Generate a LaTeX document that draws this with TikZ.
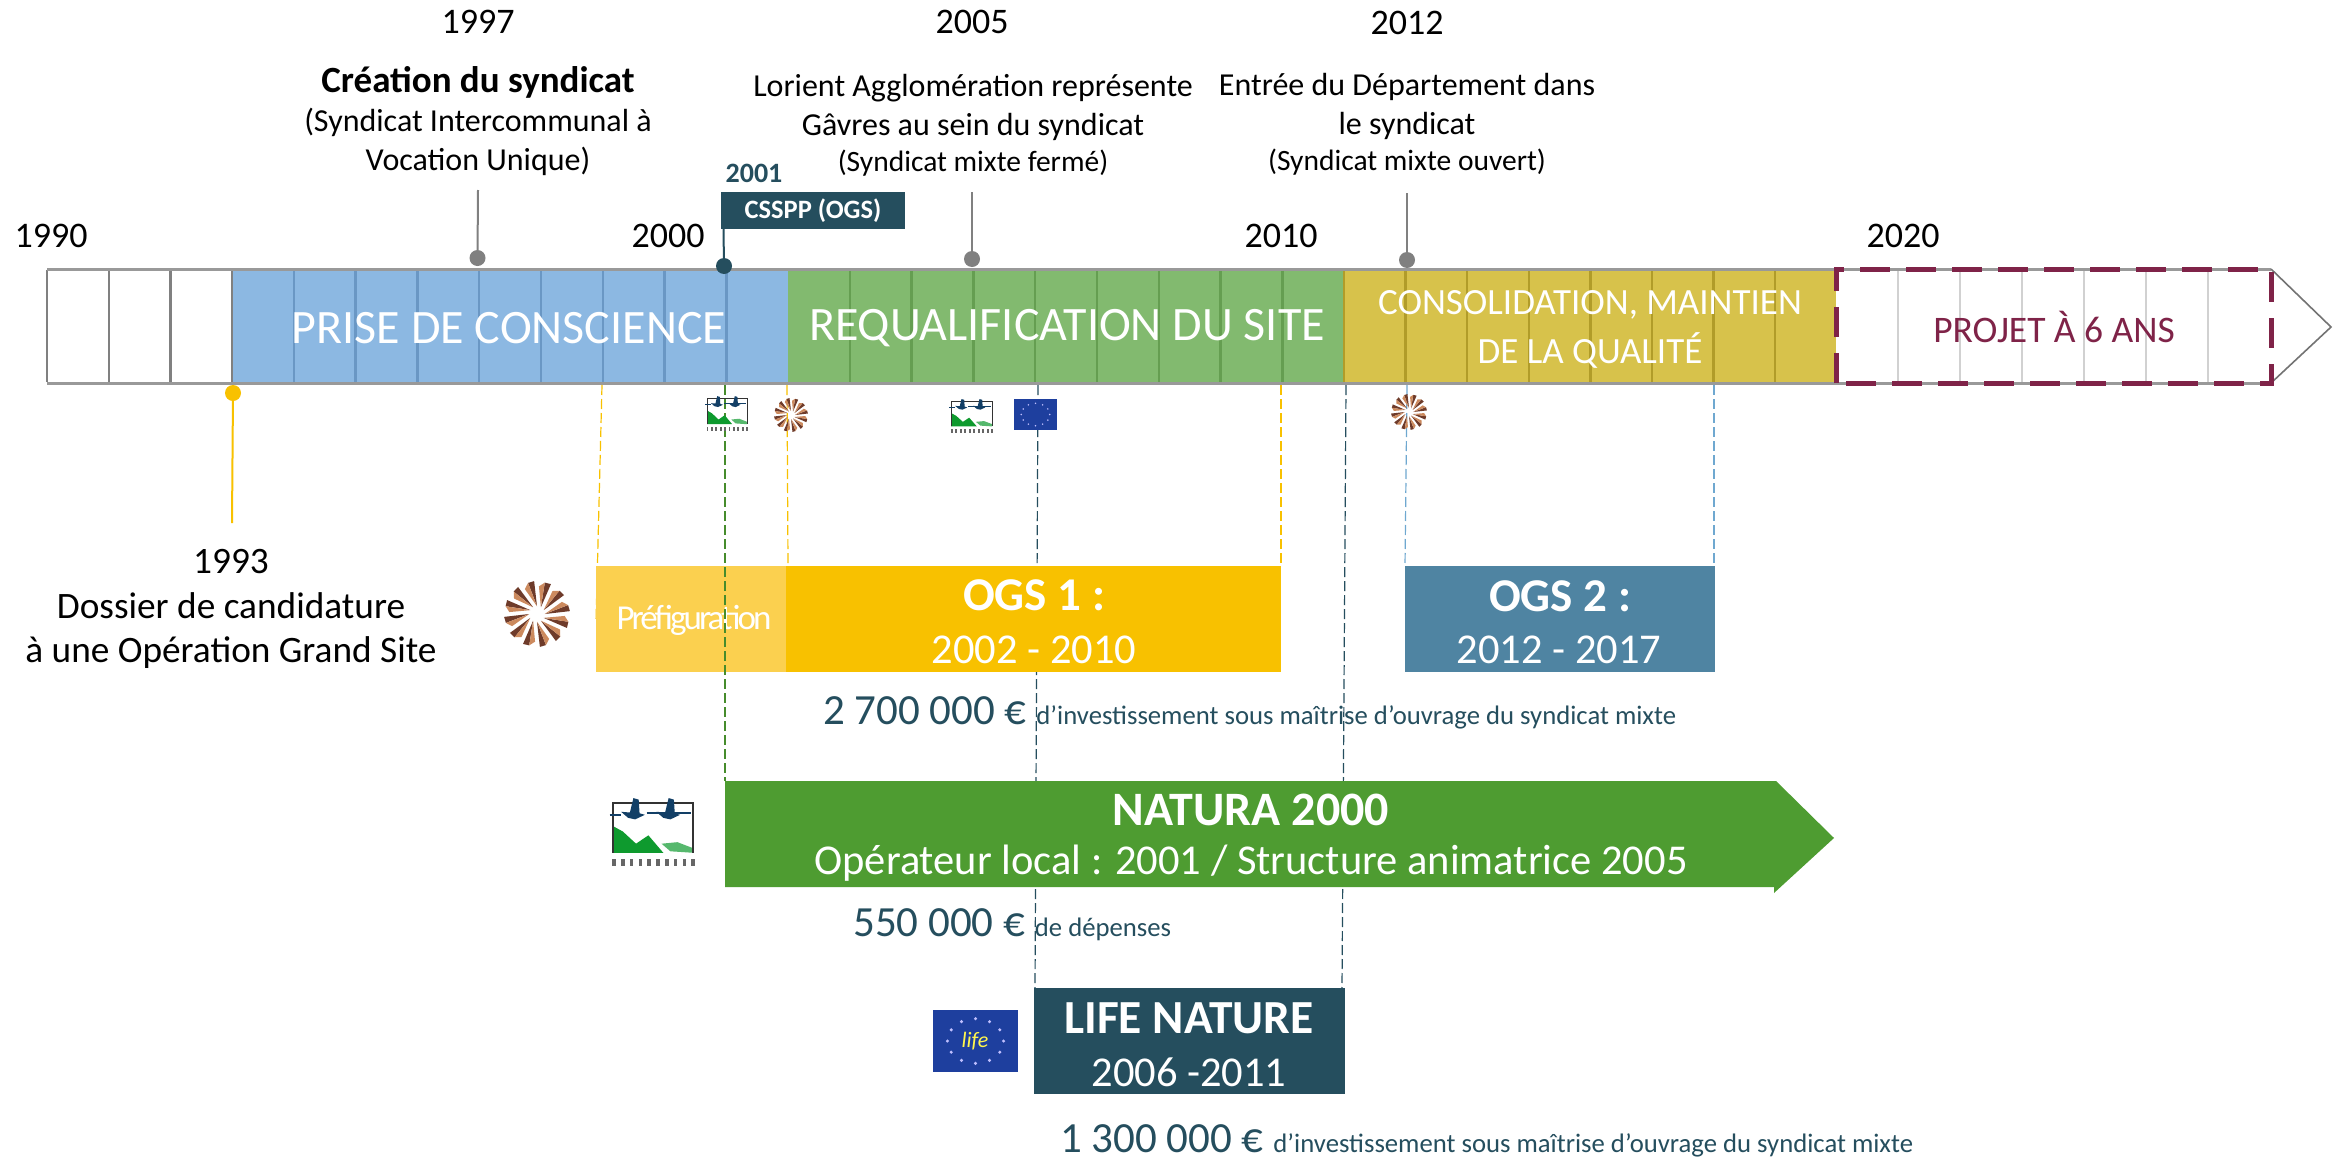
\documentclass[tikz,border=0pt]{standalone}
\usepackage{fontspec}
\setmainfont{Carlito}
\definecolor{blueF}{HTML}{8CB8E2}
\definecolor{blueL}{HTML}{6A97C4}
\definecolor{greenF}{HTML}{82BA6F}
\definecolor{greenL}{HTML}{659E51}
\definecolor{yelF}{HTML}{D7C24B}
\definecolor{yelL}{HTML}{B19C29}
\definecolor{wine}{HTML}{7F2348}
\definecolor{navy}{HTML}{254E5E}
\definecolor{ogsA}{HTML}{F8C100}
\definecolor{ogsP}{HTML}{FBD04F}
\definecolor{ogsB}{HTML}{4F84A2}
\definecolor{natG}{HTML}{4E9C31}
\definecolor{euB}{HTML}{1E3F9E}
\definecolor{dotG}{HTML}{808080}
\definecolor{dashB}{HTML}{6FA8D0}
\definecolor{rosD}{HTML}{6E3B2A}
\definecolor{rosL}{HTML}{CC8A5E}
\definecolor{birdB}{HTML}{123F66}
\definecolor{mtG}{HTML}{0E9A2E}
\newcommand{\fs}[1]{\fontsize{#1}{#1}\selectfont}
\newcommand{\fss}[2]{\fontsize{#1}{#2}\selectfont}
\newcommand{\rosette}[3]{%
 \begin{scope}[shift={(#1,#2)},x=#3pt,y=#3pt]
  \foreach \a in {0,30,...,330}{
   \fill[fill=rosD] (\a:0.24) -- (\a+5:1) -- (\a+16:0.98) -- cycle;
   \fill[fill=rosL] (\a+1:0.24) -- (\a+16:0.98) -- (\a+26:0.84) -- cycle;
  }
 \end{scope}}
\newcommand{\natlogo}[4]{%
 \begin{scope}[shift={(#1,#2)},x=#3pt,y=-#4pt]
  \fill[mtG] (0.07,0.80) -- (0.07,0.45) -- (0.18,0.52) -- (0.33,0.68) -- (0.47,0.57) -- (0.64,0.80) -- cycle;
  \fill[mtG!70!white] (0.62,0.68) -- (0.8,0.66) -- (0.98,0.74) -- (0.98,0.80) -- (0.72,0.78) -- cycle;
  \draw[black!80,line width=0.02*#3pt] (0.07,0.80) -- (0.07,0.14) -- (0.98,0.14) -- (0.98,0.80);
  \foreach \u in {0.16,0.56}{
   \fill[birdB] (\u,0.26) -- (\u+0.10,0.27) -- (\u+0.14,0.08) -- (\u+0.20,0.10) -- (\u+0.21,0.28) -- (\u+0.27,0.30) -- (\u+0.16,0.36) -- (\u+0.08,0.34) -- cycle;
  }
  \draw[birdB,line width=0.02*#3pt] (0.03,0.30) -- (0.16,0.30) (0.45,0.28) -- (0.95,0.28);
  \foreach \u in {0.08,0.18,...,0.98}
   \fill[black!60] (\u-0.02,0.88) rectangle (\u+0.02,0.98);
 \end{scope}}
\newcommand{\eulogo}[4]{%
 \begin{scope}[shift={(#1,#2)}]
  \fill[euB] (0,0) rectangle (#3,#4);
  \foreach \a in {0,30,...,330}
   \fill[blue!25!white] ({#3/2+0.33*#3*cos(\a)},{#4/2+0.36*#4*sin(\a)}) circle[radius=0.02*#3];
 \end{scope}}
\tikzset{
 x=1pt,y=-1pt,
 lbl/.style={inner sep=0pt,align=center,text=black},
 dotn/.style={circle,inner sep=0pt,minimum size=16pt,fill=#1},
 dline/.style={line width=1.2pt,dash pattern=on 10pt off 4pt,draw=#1},
 tick/.style={line width=2pt,draw=#1},
 cell/.style={line width=2.4pt,draw=#1},
 bandtxt/.style={inner sep=0pt,align=center,text=white},
 boxn/.style={inner sep=0pt,align=center,text=white,fill=#1}
}
\begin{document}
\begin{tikzpicture}
\useasboundingbox (0,0) rectangle (2341,1159);
\fill[white] (0,0) rectangle (2341,1159);
% ---- timeline bar
\fill[blueF] (232,269) rectangle (788,383);
\fill[greenF] (788,269) rectangle (1344,383);
\fill[yelF] (1344,269) rectangle (1836,383);
\foreach \n in {1,...,6}\draw[line width=2pt,draw=black!18] ({1836+\n*62},269) -- ({1836+\n*62},383);
\foreach \n in {1,...,8}\draw[cell=blueL] ({232+\n*61.8},270) -- ({232+\n*61.8},382);
\foreach \n in {1,...,8}\draw[cell=greenL] ({788+\n*61.8},270) -- ({788+\n*61.8},382);
\foreach \n in {0,...,7}\draw[cell=yelL] ({1344+\n*61.6},270) -- ({1344+\n*61.6},382);
\foreach \n in {0,1,2,3}\draw[cell=black!50] ({47+\n*61.7},270) -- ({47+\n*61.7},382);
\draw[line width=3pt,draw=black!40] (47,269) -- (2271,269) (47,383) -- (2271,383);
\draw[line width=1.6pt,draw=black!55,line join=miter] (2271,269) -- (2331,327) -- (2271,383);
\draw[line width=5pt,draw=wine,dash pattern=on 30pt off 16pt] (1836,383) -- (1836,269) -- (2271,269) -- (2271,383) -- cycle;
% ---- band labels
\node[bandtxt] (prise) at (509,328) {\fs{48}PRISE DE CONSCIENCE};
\node[bandtxt] (requal) at (1067,328) {\fs{48}REQUALIFICATION DU SITE};
\node[bandtxt] (conso1) at (1590,305) {\fs{37}CONSOLIDATION, MAINTIEN};
\node[bandtxt] (conso2) at (1590,350) {\fs{37}DE LA QUALITÉ};
\node[lbl,text=wine] (projet) at (2054,327) {\fs{37.5}PROJET À 6 ANS};
% ---- year labels
\foreach \nm/\px/\py/\yr in {y90/51/236/1990,y00/668/236/2000,y10/1281/236/2010,y20/1903/236/2020,y97/478/22/1997,y05/972/22/2005,y12/1407/23/2012}
 \node[lbl] (\nm) at (\px,\py) {\fs{36}\yr};
% ---- event labels
\node[lbl] (cre) at (478,82) {\fs{37}\bfseries Création du syndicat};
\node[lbl,font=\fss{32}{39}] (cre2) at (478,142) {(Syndicat Intercommunal à\\Vocation Unique)};
\node[lbl,font=\fss{32}{39}] (lor) at (973,107) {Lorient Agglomération représente\\Gâvres au sein du syndicat};
\node[lbl] (lor2) at (973,163) {\fs{29.5}(Syndicat mixte fermé)};
\node[lbl,font=\fss{32}{39}] (dep) at (1407,106) {Entrée du Département dans\\le syndicat};
\node[lbl] (dep2) at (1407,162) {\fs{29.5}(Syndicat mixte ouvert)};
\node[lbl,font=\fss{37.3}{44.5}] (dos) at (231,609) {1993\\Dossier de candidature\\à une Opération Grand Site};
% ---- markers
\coordinate (t97) at (478,190);
\coordinate (t05) at (972,192);
\coordinate (t12) at (1407,193);
\coordinate (t01) at (723.5,229);
\coordinate (t93) at (232,523);
\node[dotn=dotG] (d97) at (477.5,258) {};
\node[dotn=dotG] (d05) at (972,259) {};
\node[dotn=dotG] (d12) at (1407,260) {};
\node[dotn=navy] (d01) at (724,266) {};
\node[dotn=ogsA] (d93) at (233,393) {};
\draw[tick=dotG] (t97) -- (d97);
\draw[tick=dotG] (t05) -- (d05);
\draw[tick=dotG] (t12) -- (d12);
\draw[tick=navy] (t01) -- (d01);
\draw[tick=ogsA] (d93) -- (t93);
\node[boxn=navy,minimum width=184pt,minimum height=37pt] (csspp) at (813,210.5) {\fs{26.5}\bfseries CSSPP (OGS)};
\node[lbl,text=navy] (a01) at (754,173) {\fs{28}\bfseries 2001};
% ---- dashed guides
\coordinate (g1a) at (602,385); \coordinate (g1b) at (596,622);
\coordinate (g2a) at (787,385); \coordinate (g2b) at (788,566);
\coordinate (g3a) at (1281,385); \coordinate (g3b) at (1281,566);
\coordinate (g4a) at (725,385); \coordinate (g4b) at (725,781);
\coordinate (g5a) at (1038,385); \coordinate (g5b) at (1035,988);
\coordinate (g6a) at (1346,385); \coordinate (g6b) at (1342,988);
\coordinate (g7a) at (1407,385); \coordinate (g7b) at (1405,566);
\coordinate (g8a) at (1714,385); \coordinate (g8b) at (1714,566);
\draw[dline=ogsA] (g1a) -- (g1b);
\draw[dline=ogsA] (g2a) -- (g2b);
\draw[dline=ogsA] (g3a) -- (g3b);
\draw[dline=navy] (g5a) -- (g5b);
\draw[dline=navy] (g6a) -- (g6b);
\draw[dline=dashB] (g7a) -- (g7b);
\draw[dline=dashB] (g8a) -- (g8b);
% ---- programme boxes
\node[boxn=ogsP,minimum width=190pt,minimum height=106pt] (pref) at (691,619) {};
\node[lbl,text=white] (preft) at (694,620) {\fs{35}\addfontfeature{LetterSpace=-8.5}Préfiguration};
\node[boxn=ogsA,minimum width=495pt,minimum height=106pt] (ogsa) at (1033.5,619) {};
\node[lbl,text=white] (ogsat) at (1034,595) {\fs{47}\bfseries OGS 1 :};
\node[lbl,text=white] (ogsad) at (1034,650) {\fs{42.5}2002 - 2010};
\node[boxn=ogsB,minimum width=310pt,minimum height=106pt] (ogsb) at (1560,619) {};
\node[lbl,text=white] (ogsbt) at (1560,596) {\fs{47}\bfseries OGS 2 :};
\node[lbl,text=white] (ogsbd) at (1559,650) {\fs{42.5}2012 - 2017};
\draw[dline=natG!90!black] (g4a) -- (g4b);
\fill[natG] (725,781) -- (1776,781) -- (1834,838) -- (1774,893) -- (1774,887) -- (725,887) -- cycle;
\node[lbl,text=white] (natt) at (1251,810) {\fs{48}\bfseries NATURA 2000};
\node[lbl,text=white] (natd) at (1251,863) {\fs{42.5}Opérateur local : 2001 / Structure animatrice 2005};
\node[boxn=navy,minimum width=311pt,minimum height=106pt] (life) at (1189.5,1041) {};
\node[lbl,text=white] (lifet) at (1189,1018) {\fs{47.5}\bfseries LIFE NATURE};
\node[lbl,text=white] (lifed) at (1189,1072) {\fs{42.5}2006 -2011};
% ---- amounts
\node[lbl,text=navy,anchor=base west] (m1) at (823,724) {\fs{43}2 700 000 € \fs{26.7}d’investissement sous maîtrise d’ouvrage du syndicat mixte};
\node[lbl,text=navy,anchor=base west] (m2) at (853,936.5) {\fs{43}550 000 € \fs{26.7}de dépenses};
\node[lbl,text=navy,anchor=base west] (m3) at (1060,1152.5) {\fs{43}1 300 000 € \fs{26.7}d’investissement sous maîtrise d’ouvrage du syndicat mixte};
% ---- logos
\rosette{537}{614}{33}
\rosette{791}{415}{17}
\rosette{1409}{412}{18}
\natlogo{607}{792}{88}{76}
\natlogo{704}{393}{44}{39}
\natlogo{948}{396}{45}{38}
\eulogo{933}{1010}{85}{62}
\eulogo{1014}{399}{43}{31}
\node[inner sep=0pt,text=yellow!70!white] (lifelogo) at (975,1041) {\fs{22}\itshape life};
\end{tikzpicture}
\end{document}
